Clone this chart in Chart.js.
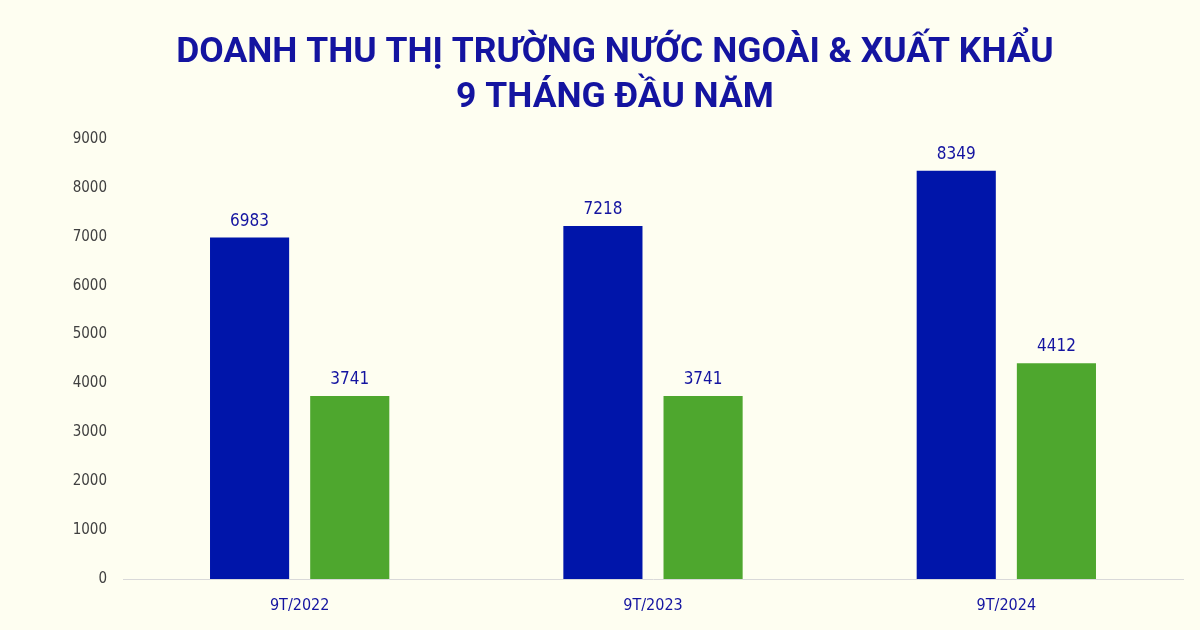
<!DOCTYPE html>
<html>
<head>
<meta charset="utf-8">
<script src="https://cdn.jsdelivr.net/npm/chart.js@4"></script>
<style>
  html, body { margin: 0; padding: 0; background: #FEFEF1; }
  #wrap { width: 1200px; height: 630px; }
</style>
</head>
<body>
<div id="wrap"><canvas id="revChart" width="1200" height="630"></canvas></div>
<script>
// Dữ liệu
const categories = ['9T/2022', '9T/2023', '9T/2024'];
const seriesBlue = [6983, 7218, 8349];
const seriesGreen = [3741, 3741, 4412];
const yTicks = [0, 1000, 2000, 3000, 4000, 5000, 6000, 7000, 8000, 9000];
const titleLines = ['DOANH THU THỊ TRƯỜNG NƯỚC NGOÀI & XUẤT KHẨU', '9 THÁNG ĐẦU NĂM'];

const NAVY = '#1414A0';

// Tiêu đề hai dòng, lệch phải nhẹ như ảnh gốc
const titleBlock = {
    id: 'titleBlock',
    afterDraw(chart) {
        const ctx = chart.ctx;
        ctx.save();
        ctx.fillStyle = NAVY;
        ctx.font = 'bold 35.5px "Roboto", sans-serif';
        ctx.textAlign = 'center';
        ctx.textBaseline = 'middle';
        titleLines.forEach((line, i) => ctx.fillText(line, 615, 53 + i * 45));
        ctx.restore();
    }
};

// Ghi số liệu phía trên mỗi cột
const valueLabels = {
    id: 'valueLabels',
    afterDatasetsDraw(chart) {
        const ctx = chart.ctx;
        ctx.save();
        ctx.fillStyle = NAVY;
        ctx.font = '500 17px "DejaVu Sans Condensed", "Roboto", sans-serif';
        ctx.textAlign = 'center';
        ctx.textBaseline = 'bottom';
        chart.data.datasets.forEach((ds, i) => {
            chart.getDatasetMeta(i).data.forEach((bar, j) => {
                ctx.fillText(ds.data[j], bar.x, bar.y - 8);
            });
        });
        ctx.restore();
    }
};

const ctx = document.getElementById('revChart').getContext('2d');
new Chart(ctx, {
    type: 'bar',
    data: {
        labels: categories,
        datasets: [
            { label: 'Nước ngoài', data: seriesBlue, backgroundColor: '#0015AA' },
            { label: 'Xuất khẩu', data: seriesGreen, backgroundColor: '#4EA72E' }
        ]
    },
    options: {
        responsive: false,
        animation: false,
        categoryPercentage: 0.567,
        barPercentage: 0.79,
        layout: { padding: { left: 0, right: 17, top: 139, bottom: 0 } },
        plugins: {
            legend: { display: false },
            tooltip: { enabled: false },
            title: { display: false }
        },
        scales: {
            x: {
                grid: { display: false, drawTicks: false },
                border: { display: true, color: '#D9D9D9', width: 1 },
                ticks: { color: NAVY, padding: 17, font: { family: '"DejaVu Sans Condensed", sans-serif', size: 16 } },
                afterFit: (scale) => { scale.height = 51; }
            },
            y: {
                min: 0,
                max: 9000,
                afterBuildTicks: (scale) => { scale.ticks = yTicks.map(v => ({ value: v })); },
                grid: { display: false, drawTicks: false },
                border: { display: false },
                ticks: { color: '#404040', padding: 16, font: { family: '"DejaVu Sans Condensed", sans-serif', size: 15 }, callback: (v) => String(v) },
                afterFit: (scale) => { scale.width = 123; }
            }
        }
    },
    plugins: [titleBlock, valueLabels]
});
</script>
</body>
</html>
